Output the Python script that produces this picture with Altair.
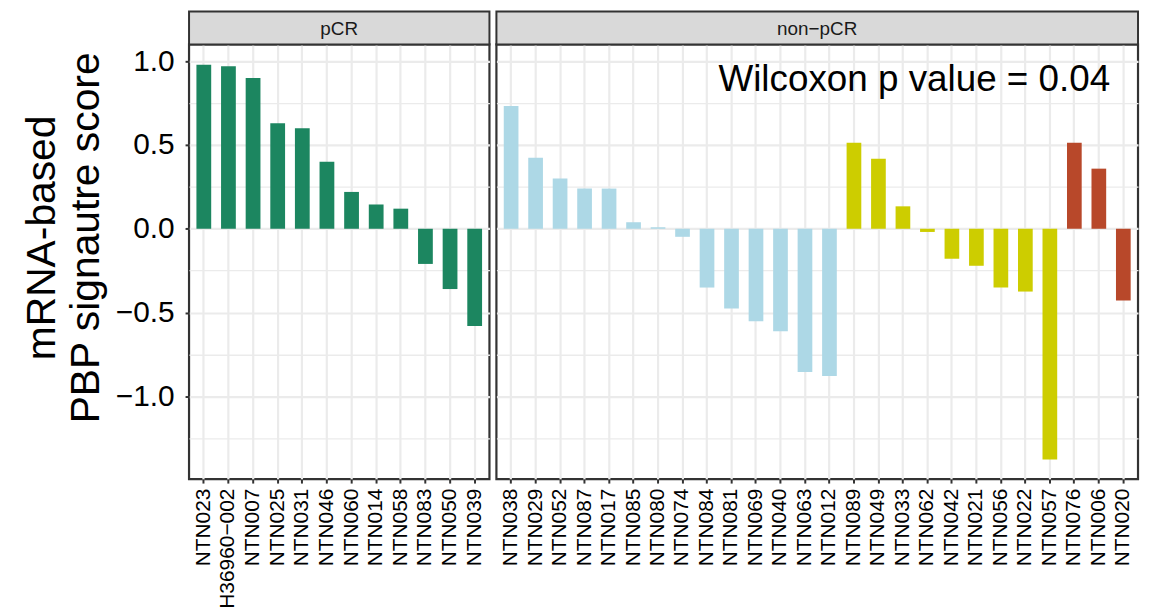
import altair as alt
import pandas as pd

# ---- data ----
pcr_samples = ["NTN023", "H36960\u2212002", "NTN007", "NTN025", "NTN031", "NTN046",
               "NTN060", "NTN014", "NTN058", "NTN083", "NTN050", "NTN039"]
pcr_scores = [0.98, 0.97, 0.90, 0.63, 0.60, 0.40, 0.22, 0.145, 0.12, -0.21, -0.36, -0.58]
pcr_groups = ["pCR"] * 12

non_samples = ["NTN038", "NTN029", "NTN052", "NTN087", "NTN017", "NTN085", "NTN080",
               "NTN074", "NTN084", "NTN081", "NTN069", "NTN040", "NTN063", "NTN012",
               "NTN089", "NTN049", "NTN033", "NTN062", "NTN042", "NTN021", "NTN056",
               "NTN022", "NTN057", "NTN076", "NTN006", "NTN020"]
non_scores = [0.733, 0.424, 0.30, 0.24, 0.24, 0.039, 0.009, -0.048, -0.351, -0.476,
              -0.553, -0.612, -0.856, -0.879, 0.513, 0.418, 0.134, -0.019, -0.179,
              -0.221, -0.351, -0.375, -1.378, 0.513, 0.359, -0.428]
non_groups = ["cluster 1"] * 14 + ["cluster 2"] * 9 + ["cluster 3"] * 3

group_names = ["pCR", "cluster 1", "cluster 2", "cluster 3"]
group_colors = ["#1C8660", "#ADD8E6", "#CDCD00", "#B8482A"]

panel_labels = ["pCR", "non\u2212pCR"]
y_title = ["mRNA-based", "PBP signautre score"]
y_ticks = [-1.25, -1.0, -0.75, -0.5, -0.25, 0.0, 0.25, 0.5, 0.75, 1.0]
annotation = "Wilcoxon p value = 0.04"

# ---- styling ----
H = 437
W_LEFT = 302
W_RIGHT = 645
STRIP = 33
GRID = "#EBEBEB"
BORDER = "#333333"
major = "abs(datum.value*2 - round(datum.value*2)) < 0.001"

yscale = alt.Scale(domain=[-1.495, 1.101], nice=False, zero=False)
cscale = alt.Scale(domain=group_names, range=group_colors)


def y_axis(show):
    common = dict(
        values=y_ticks,
        grid=True,
        gridColor=GRID,
        gridWidth={"condition": {"test": major, "value": 2.2}, "value": 1.3},
        domain=False,
    )
    if show:
        return alt.Axis(
            title=y_title,
            titleFontSize=41,
            titleLineHeight=44,
            titleFontWeight="normal",
            titleColor="black",
            titlePadding=8,
            titleY=194,
            titleAlign="center",
            labelExpr=f"{major} ? format(datum.value, '.1f') : ''",
            labelFontSize=30,
            labelColor="black",
            labelPadding=11,
            tickSize=4,
            tickWidth=2,
            tickColor=BORDER,
            tickOpacity={"condition": {"test": major, "value": 1}, "value": 0},
            **common,
        )
    return alt.Axis(title=None, labels=False, ticks=False, **common)


def panel(samples, scores, groups, label, width, show_y, note=None):
    df = pd.DataFrame({"sample": samples, "score": scores, "group": groups})
    bars = alt.Chart(df).mark_bar().encode(
        x=alt.X(
            "sample:N",
            sort=samples,
            scale=alt.Scale(paddingInner=0.4, paddingOuter=0.3),
            axis=alt.Axis(
                title=None,
                labelAngle=-90,
                labelFontSize=21,
                labelColor="black",
                labelPadding=5,
                tickSize=4,
                tickWidth=2,
                tickColor=BORDER,
                domain=False,
                grid=True,
                gridColor=GRID,
                gridWidth=2.2,
                bandPosition=0.5,
            ),
        ),
        y=alt.Y("score:Q", scale=yscale, axis=y_axis(show_y)),
        color=alt.Color("group:N", scale=cscale, legend=None),
    )
    sdf = pd.DataFrame({"label": [label]})
    strip = alt.Chart(sdf).mark_rect(fill="#D9D9D9", stroke=BORDER, strokeWidth=2).encode(
        x=alt.value(0), x2=alt.value(width), y=alt.value(-STRIP), y2=alt.value(0)
    )
    strip_text = alt.Chart(sdf).mark_text(fontSize=19, color="#1a1a1a", baseline="middle").encode(
        x=alt.value(width / 2), y=alt.value(-STRIP / 2 + 1), text="label:N"
    )
    layers = [bars, strip, strip_text]
    if note is not None:
        ndf = pd.DataFrame({"note": [note], "yv": [0.825]})
        txt = alt.Chart(ndf).mark_text(
            fontSize=37, align="right", baseline="alphabetic", color="black"
        ).encode(x=alt.value(width - 28), y=alt.Y("yv:Q", scale=yscale), text="note:N")
        layers.append(txt)
    return alt.layer(*layers).properties(width=width, height=H)


left = panel(pcr_samples, pcr_scores, pcr_groups, panel_labels[0], W_LEFT, True)
right = panel(non_samples, non_scores, non_groups, panel_labels[1], W_RIGHT, False, annotation)

chart = (
    alt.hconcat(left, right, spacing=1)
    .resolve_scale(x="independent", y="shared")
    .properties(padding={"left": 12, "top": -1, "right": 0, "bottom": 0})
    .configure(font="Liberation Sans")
    .configure_view(stroke=BORDER, strokeWidth=2.2)
)

chart.save("out.html", embed_options={"renderer": "svg", "actions": False})
